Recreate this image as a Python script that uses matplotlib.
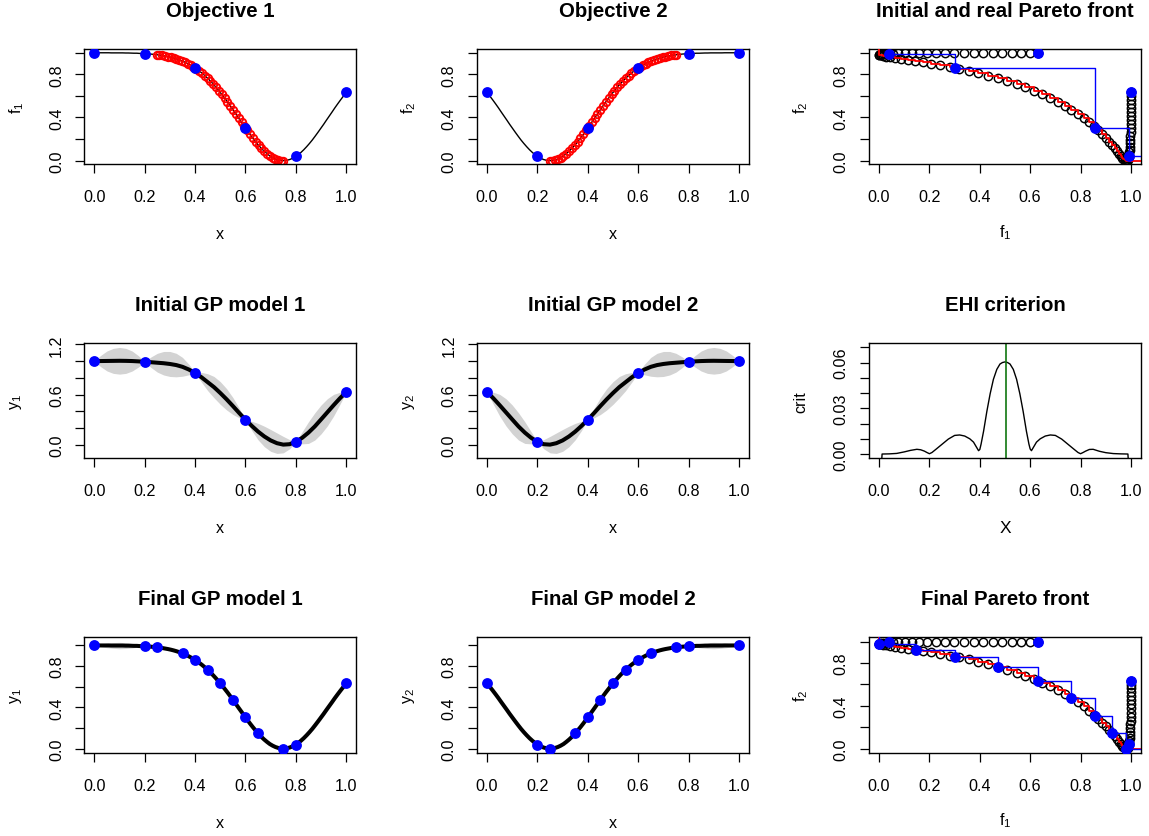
import numpy as np
import matplotlib
matplotlib.use("Agg")
import matplotlib.pyplot as plt

plt.rcParams['font.family'] = ['Liberation Sans', 'DejaVu Sans']
plt.rcParams['mathtext.fontset'] = 'custom'
plt.rcParams['mathtext.rm'] = 'Liberation Sans'
plt.rcParams['mathtext.it'] = 'Liberation Sans:italic'

# ---------- data ----------
F1 = [1.000,1.000,1.000,1.000,1.000,1.000,.999,.999,.999,.999,.999,.998,.998,.997,.996,.996,.994,.993,.992,.990,
      .988,.985,.982,.979,.975,.970,.965,.959,.952,.944,.935,.924,.913,.900,.885,.869,.852,.833,.812,.789,
      .764,.738,.710,.680,.648,.616,.581,.546,.509,.471,.433,.394,.356,.318,.280,.243,.208,.175,.143,.114,
      .088,.065,.044,.028,.015,.006,.001,.000,.003,.010,.021,.036,.054,.076,.101,.129,.159,.191,.226,.262,
      .299,.336,.375,.413,.451,.490,.527,.563,.598,.632]
F2 = [.632,.598,.563,.527,.490,.451,.413,.375,.336,.299,.262,.226,.191,.159,.129,.101,.076,.054,.036,.021,
      .010,.003,.000,.001,.006,.015,.028,.044,.065,.088,.114,.143,.175,.208,.243,.280,.318,.356,.394,.433,
      .471,.509,.546,.581,.616,.648,.680,.710,.738,.764,.789,.812,.833,.852,.869,.885,.900,.913,.924,.935,
      .944,.952,.959,.965,.970,.975,.979,.982,.985,.988,.990,.992,.993,.994,.996,.996,.997,.998,.998,.999,
      .999,.999,.999,.999,1.0,1.0,1.0,1.0,1.0,1.0]
X_GRID = np.linspace(0, 1, len(F1))

PARETO_X = [.25] + list(X_GRID[23:67]) + [.75]
PARETO_F1 = [.982] + F1[23:67] + [.0]
PARETO_F2 = [.0] + F2[23:67] + [.982]

INIT_X = [0.0, 0.2, 0.4, 0.6, 0.8, 1.0]
INIT_F1 = [1.000, .992, .859, .302, .039, .632]
INIT_F2 = [.632, .039, .302, .859, .992, 1.000]
INIT_FRONT_F1 = [.039, .302, .859, .992]
INIT_FRONT_F2 = [.992, .859, .302, .039]

FINAL_X = [0.0, .2, .25, .35, .4, .45, .5, .55, .6, .65, .75, .8, 1.0]
FINAL_F1 = [1.000, .992, .981, .923, .859, .763, .632, .473, .302, .148, .000, .039, .632]
FINAL_F2 = [.632, .039, .000, .148, .302, .473, .632, .763, .859, .923, .981, .992, 1.000]
FINAL_FRONT_F1 = [.000, .148, .302, .473, .632, .763, .859, .923, .981]
FINAL_FRONT_F2 = [.981, .923, .859, .763, .632, .473, .302, .148, .000]

GP_X = np.arange(41) * 0.025
INIT_M1 = [1.000,1.001,1.002,1.003,1.004,1.003,1.001,.997,.992,.987,.981,.975,.966,.953,.932,.900,.859,.808,.749,.690,
           .620,.545,.465,.382,.302,.228,.160,.102,.055,.022,.005,.010,.039,.086,.148,.221,.305,.390,.475,.557,.632]
INIT_U1 = [1.000,1.068,1.121,1.152,1.163,1.152,1.120,1.064,.992,1.050,1.093,1.115,1.115,1.093,1.044,.963,.859,.865,.850,.817,
           .755,.672,.566,.439,.302,.283,.258,.224,.185,.144,.103,.065,.039,.158,.277,.383,.477,.552,.604,.629,.632]
INIT_L1 = [1.000,.934,.883,.854,.845,.854,.882,.930,.992,.924,.869,.835,.817,.813,.820,.837,.859,.751,.648,.563,
           .485,.418,.364,.325,.302,.173,.062,-.020,-.075,-.100,-.093,-.045,.039,.014,.019,.059,.133,.228,.346,.485,.632]
INIT_M2 = [.632,.557,.475,.390,.305,.221,.148,.086,.039,.010,.005,.022,.055,.102,.160,.228,.302,.382,.465,.545,
           .620,.690,.749,.808,.859,.900,.932,.953,.966,.975,.981,.987,.992,.997,1.001,1.003,1.004,1.003,1.002,1.001,1.000]
INIT_U2 = [.632,.629,.604,.552,.477,.383,.277,.158,.039,.065,.103,.144,.185,.224,.258,.283,.302,.439,.566,.672,
           .755,.817,.850,.865,.859,.963,1.044,1.093,1.115,1.115,1.093,1.050,.992,1.064,1.120,1.152,1.163,1.152,1.121,1.068,1.000]
INIT_L2 = [.632,.485,.346,.228,.133,.059,.019,.014,.039,-.045,-.093,-.100,-.075,-.020,.062,.173,.302,.325,.364,.418,
           .485,.563,.648,.751,.859,.837,.820,.813,.817,.835,.869,.924,.992,.930,.882,.854,.845,.854,.883,.934,1.000]

BAND_A_X = [0.0,.025,.05,.075,.1,.125,.15,.175,.2]
BAND_B_X = [.8,.825,.85,.875,.9,.925,.95,.975,1.0]
FINAL1_A_U = [1.000,1.012,1.022,1.028,1.030,1.026,1.018,1.006,.992]
FINAL1_A_L = [1.000,.988,.978,.972,.968,.970,.976,.984,.992]
FINAL1_B_U = [.039,.096,.166,.243,.326,.409,.491,.565,.632]
FINAL1_B_L = [.039,.076,.130,.199,.278,.365,.455,.545,.632]
FINAL2_A_U = [.632,.565,.491,.409,.326,.243,.166,.096,.039]
FINAL2_A_L = [.632,.545,.455,.365,.278,.199,.130,.076,.039]
FINAL2_B_U = [.992,1.006,1.018,1.026,1.030,1.028,1.022,1.012,1.000]
FINAL2_B_L = [.992,.984,.976,.970,.968,.972,.978,.988,1.000]

EHI_X = [.008,.012,.04,.07,.1,.125,.15,.165,.18,.19,.2,.21,.225,.25,.275,.3,.32,.34,.36,.375,.385,.395,.4,.405,.415,.428,.441,.454,
         .4675,.48,.49,.5,.51,.52,.533,.546,.559,.572,.585,.595,.6,.605,.615,.625,.64,.66,.68,.70,.725,.75,.775,.79,.8,.81,.82,.835,.85,.875,.9,.93,.96,.988,.992]
EHI_Y = [-.01,.0,.0001,.0004,.0014,.0024,.0031,.0028,.0019,.0010,.0002,.0010,.0030,.0064,.0098,.0122,.0125,.0118,.0100,.0078,.0050,.0022,.0030,.0065,.0150,.0280,.0395,.0490,
         .0555,.0590,.0600,.0604,.0600,.0590,.0555,.0490,.0395,.0280,.0150,.0065,.0033,.0022,.0050,.0078,.0100,.0118,.0125,.0122,.0098,.0064,.0030,.0010,.0002,.0010,.0019,.0030,.0031,.0018,.0009,.0003,.0001,.0,-.01]
EHI_BEST_X = .503

X_TICKS = [0.0, .2, .4, .6, .8, 1.0]
X_TICK_LABELS = ['0.0', '0.2', '0.4', '0.6', '0.8', '1.0']

# ---------- layout (pixels) ----------
W, H = 1149, 837
LEFTS = [84.3, 477.0, 869.0]
WIDTH = 272.0
TOPS = [50.0, 344.0, 638.3]
HEIGHT = 115.3
BLUE, RED, GREY = '#0000ff', '#ff0000', '#d3d3d3'

fig = plt.figure(figsize=(W / 100, H / 100), dpi=100)


def panel(row, col, title, xl, yl, ylim, yticks, ylabels, xlim=(-0.04, 1.04)):
    ax = fig.add_axes([LEFTS[col] / W, 1 - (TOPS[row] + HEIGHT) / H, WIDTH / W, HEIGHT / H])
    ax.set_xlim(*xlim)
    ax.set_ylim(*ylim)
    ax.set_xticks(X_TICKS, X_TICK_LABELS)
    ax.set_yticks(yticks, ylabels)
    ax.tick_params(axis='both', length=6.5, width=0.9, labelsize=11.6, color='black')
    ax.tick_params(axis='x', pad=11.5)
    ax.tick_params(axis='y', pad=8)
    for t in ax.get_yticklabels():
        t.set_rotation(90)
        t.set_va('center')
    for s in ax.spines.values():
        s.set_linewidth(1.0)
    ax.set_title(title, fontweight='bold', fontsize=14.7, pad=23.7)
    xs = 12.5 if xl == 'X' else 11.6
    ax.set_xlabel(xl, fontsize=xs, va='center')
    # the subscripted labels sit a little higher than the plain ones
    off = 67 if xl.startswith('$') else 69.5
    ax.xaxis.set_label_coords(0.5, -off / HEIGHT)
    ax.set_ylabel(yl, fontsize=11.6, va='center', rotation=90)
    ax.yaxis.set_label_coords(-68 / WIDTH, 0.5)
    return ax


def blue_pts(ax, x, y):
    ax.plot(x, y, 'o', color=BLUE, ms=7.8, mew=0, zorder=6)


def stair(ax, fx, fy, color, lw):
    top = ax.get_ylim()[1]
    right = ax.get_xlim()[1]
    sx = [fx[0]] + list(fx) + [right]
    sy = [top] + list(fy) + [fy[-1]]
    ax.step(sx, sy, where='post', color=color, lw=lw, zorder=4)


Y1 = ([0, .2, .4, .6, .8, 1.0], ['0.0', '', '0.4', '', '0.8', ''])
Y2 = ([0, .2, .4, .6, .8, 1.0, 1.2], ['0.0', '', '', '0.6', '', '', '1.2'])
Y3 = ([0, .01, .02, .03, .04, .05, .06, .07], ['0.00', '', '', '0.03', '', '', '0.06', ''])
F1_L, F2_L = r'$\mathregular{f_1}$', r'$\mathregular{f_2}$'
Y1_L, Y2_L = r'$\mathregular{y_1}$', r'$\mathregular{y_2}$'
LIM_TOP = (-0.034, 1.035)
LIM_MID = (-0.158, 1.216)

CIRC = dict(linestyle='none', marker='o', mfc='none')

# Row 1
ax = panel(0, 0, 'Objective 1', 'x', F1_L, LIM_TOP, *Y1)
ax.plot(X_GRID, F1, color='black', lw=1.0)
ax.plot(PARETO_X, PARETO_F1, mec=RED, ms=5.4, mew=1.35, **CIRC)
blue_pts(ax, INIT_X, INIT_F1)

ax = panel(0, 1, 'Objective 2', 'x', F2_L, LIM_TOP, *Y1)
ax.plot(X_GRID, F2, color='black', lw=1.0)
ax.plot(PARETO_X, PARETO_F2, mec=RED, ms=5.4, mew=1.35, **CIRC)
blue_pts(ax, INIT_X, INIT_F2)

ax = panel(0, 2, 'Initial and real Pareto front', F1_L, F2_L, LIM_TOP, *Y1)
ax.plot(F1, F2, mec='black', ms=6, mew=1.05, **CIRC)
stair(ax, PARETO_F1[::-1], PARETO_F2[::-1], RED, 1.3)
stair(ax, INIT_FRONT_F1, INIT_FRONT_F2, BLUE, 1.0)
blue_pts(ax, INIT_F1, INIT_F2)

# Row 2
ax = panel(1, 0, 'Initial GP model 1', 'x', Y1_L, LIM_MID, *Y2)
ax.fill_between(GP_X, INIT_L1, INIT_U1, color=GREY, lw=0)
ax.plot(GP_X, INIT_M1, color='black', lw=2.9)
blue_pts(ax, INIT_X, INIT_F1)

ax = panel(1, 1, 'Initial GP model 2', 'x', Y2_L, LIM_MID, *Y2)
ax.fill_between(GP_X, INIT_L2, INIT_U2, color=GREY, lw=0)
ax.plot(GP_X, INIT_M2, color='black', lw=2.9)
blue_pts(ax, INIT_X, INIT_F2)

ax = panel(1, 2, 'EHI criterion', 'X', 'crit', (-0.0028, 0.0728), *Y3)
ax.plot(EHI_X, EHI_Y, color='black', lw=1.0)
ax.axvline(EHI_BEST_X, color='#117711', lw=1.2)

# Row 3
LIM_B1 = (-0.039, 1.079)
ax = panel(2, 0, 'Final GP model 1', 'x', Y1_L, LIM_B1, *Y1)
ax.fill_between(BAND_A_X, FINAL1_A_L, FINAL1_A_U, color=GREY, lw=0)
ax.fill_between(BAND_B_X, FINAL1_B_L, FINAL1_B_U, color=GREY, lw=0)
ax.plot(X_GRID, F1, color='black', lw=2.9)
blue_pts(ax, FINAL_X, FINAL_F1)

ax = panel(2, 1, 'Final GP model 2', 'x', Y2_L, LIM_B1, *Y1)
ax.fill_between(BAND_A_X, FINAL2_A_L, FINAL2_A_U, color=GREY, lw=0)
ax.fill_between(BAND_B_X, FINAL2_B_L, FINAL2_B_U, color=GREY, lw=0)
ax.plot(X_GRID, F2, color='black', lw=2.9)
blue_pts(ax, FINAL_X, FINAL_F2)

ax = panel(2, 2, 'Final Pareto front', F1_L, F2_L, (-0.037, 1.04), *Y1)
ax.plot(F1, F2, mec='black', ms=6, mew=1.05, **CIRC)
stair(ax, PARETO_F1[::-1], PARETO_F2[::-1], RED, 1.3)
stair(ax, FINAL_FRONT_F1, FINAL_FRONT_F2, BLUE, 1.0)
blue_pts(ax, FINAL_F1, FINAL_F2)

fig.savefig('out.png', dpi=100)
